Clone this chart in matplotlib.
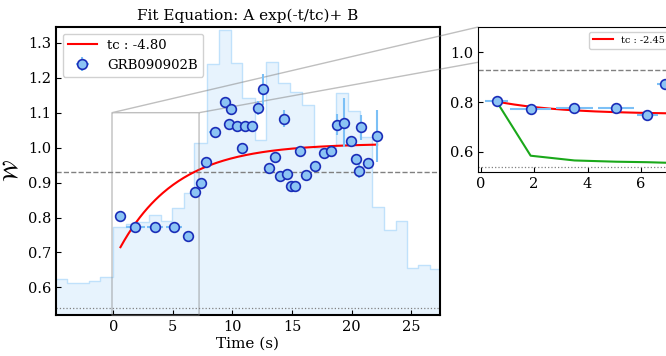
import numpy as np
import matplotlib
matplotlib.use("Agg")
import matplotlib.pyplot as plt

plt.rcParams['font.family'] = 'DejaVu Serif'
plt.rcParams['mathtext.fontset'] = 'dejavuserif'

# light curve (background histogram), bin edges and levels
lc_edges = [-4.8, -3.87, -2.06, -1.09, 0.0, 1.1, 2.05, 3.0, 4.0, 4.93, 5.9, 6.8,
            7.9, 8.9, 9.9, 10.76, 11.87, 12.85, 13.8, 14.8, 15.8, 16.8, 17.75,
            18.7, 19.7, 20.7, 21.7, 22.7, 23.7, 24.6, 25.6, 26.6, 27.5]
lc_levels = [0.624, 0.614, 0.618, 0.629, 0.774, 0.782, 0.786, 0.807, 0.790, 0.826,
             0.870, 1.013, 1.238, 1.336, 1.243, 1.142, 1.022, 1.245, 1.185, 1.160,
             1.122, 0.998, 0.998, 1.157, 1.105, 1.031, 0.831, 0.763, 0.790, 0.657,
             0.664, 0.652]

# data points
t = [0.61, 1.87, 3.51, 5.07, 6.24, 6.88, 7.38, 7.78, 8.53, 9.36, 9.67, 9.84,
     10.37, 10.84, 11.09, 11.62, 12.15, 12.60, 13.04, 13.55, 13.99, 14.36,
     14.58, 14.88, 15.24, 15.69, 16.19, 16.89, 17.67, 18.28, 18.75, 19.37,
     19.98, 20.38, 20.60, 20.82, 21.40, 22.13]
w = [0.803, 0.772, 0.774, 0.774, 0.748, 0.874, 0.900, 0.960, 1.046, 1.131, 1.068,
     1.110, 1.063, 1.000, 1.063, 1.063, 1.114, 1.167, 0.943, 0.974, 0.918, 1.083,
     0.924, 0.889, 0.891, 0.989, 0.923, 0.947, 0.985, 0.991, 1.066, 1.071, 1.018,
     0.967, 0.934, 1.058, 0.955, 1.033]
t_err = [0.43, 0.78, 0.70, 0.68, 0.40, 0.30, 0.20, 0.20, 0.50, 0.15, 0.10, 0.15,
         0.10, 0.10, 0.10, 0.10, 0.10, 0.10, 0.10, 0.10, 0.10, 0.10, 0.10, 0.10,
         0.10, 0.10, 0.10, 0.10, 0.10, 0.10, 0.10, 0.10, 0.10, 0.10, 0.10, 0.10,
         0.10, 0.10]
w_err = [0.005, 0.005, 0.005, 0.005, 0.005, 0.005, 0.005, 0.01, 0.01, 0.01, 0.01,
         0.01, 0.01, 0.01, 0.01, 0.01, 0.02, 0.045, 0.01, 0.01, 0.01, 0.025, 0.01,
         0.01, 0.01, 0.01, 0.01, 0.01, 0.01, 0.01, 0.03, 0.07, 0.01, 0.015, 0.02,
         0.035, 0.01, 0.075]

# fit parameters (A exp(-t/tc) + B)
tc_main, A_main, B_main = -4.80, -0.337, 1.012
tc_zoom, A_zoom, B_zoom = -2.45, 0.065, 0.751

# green curve in the zoom panel
green_t = [0.61, 1.87, 3.51, 5.07, 6.24, 6.88, 7.38]
green_w = [0.800, 0.585, 0.566, 0.561, 0.559, 0.557, 0.556]

w_dashed = 0.93
w_dotted = 0.54

fill_c = '#e7f3fd'
edge_c = '#c0e1fb'
face_c = '#8cc4f4'
mark_e = '#1a2db8'
err_c = '#7cc0f6'


def ref_lines(ax):
    ax.axhline(w_dashed, color='gray', ls='--', lw=1)
    ax.axhline(w_dotted, color='gray', ls=':', lw=0.9)


fig = plt.figure(figsize=(6.66, 3.56), dpi=100)
ax = fig.add_axes([0.084, 0.115, 0.5766, 0.809])
ax.fill_between(lc_edges, lc_levels + [lc_levels[-1]], 0, step='post',
                color=fill_c, lw=0)
ax.step(lc_edges, lc_levels + [lc_levels[-1]], where='post', color=edge_c, lw=1)
ref_lines(ax)

tt = np.linspace(t[0], t[-1], 200)
ax.plot(tt, B_main + A_main * np.exp(-tt / abs(tc_main)), color='red', lw=1.5,
        label='tc : %.2f' % tc_main, zorder=4)
ax.errorbar(t, w, xerr=t_err, yerr=w_err, fmt='o', ms=7, mfc=face_c, mec=mark_e,
            mew=1.2, ecolor=err_c, elinewidth=1.5, capsize=0, label='GRB090902B',
            zorder=5)
ax.set_xlim(-4.8, 27.4)
ax.set_ylim(0.521, 1.345)
ax.set_xticks([0, 5, 10, 15, 20, 25])
ax.set_yticks([0.6, 0.7, 0.8, 0.9, 1.0, 1.1, 1.2, 1.3])
ax.tick_params(direction='in', labelsize=10.5)
for s in ax.spines.values():
    s.set_linewidth(1.5)
ax.set_xlabel('Time (s)', fontsize=11, labelpad=2)
ax.set_ylabel(r'$\mathcal{W}$', fontsize=15)
ax.set_title('Fit Equation: A exp(-t/tc)+ B', fontsize=11, pad=5)
ax.legend(loc='upper left', fontsize=9.5, framealpha=0.9, borderpad=0.4,
          handlelength=2.2)

# zoom panel
axins = fig.add_axes([0.7177, 0.517, 0.293, 0.407])
ref_lines(axins)
axins.plot(green_t, green_w, color='#1aa81a', lw=1.5, zorder=3)
axins.plot(tt, B_zoom + A_zoom * np.exp(-tt / abs(tc_zoom)), color='red', lw=1.5,
           label='tc : %.2f' % tc_zoom, zorder=4)
axins.errorbar(t, w, xerr=t_err, yerr=w_err, fmt='o', ms=7, mfc=face_c, mec=mark_e,
               mew=1.2, ecolor=err_c, elinewidth=1.5, capsize=0, zorder=5)
axins.set_xlim(-0.1, 7.2)
axins.set_ylim(0.52, 1.10)
axins.set_xticks([0, 2, 4, 6])
axins.set_yticks([0.6, 0.8, 1.0])
axins.tick_params(direction='in', labelsize=10.5)
axins.legend(loc='upper right', fontsize=7, framealpha=0.9)
ax.indicate_inset_zoom(axins, edgecolor='0.5', alpha=0.5, lw=1)

fig.savefig('out.png', dpi=100)
